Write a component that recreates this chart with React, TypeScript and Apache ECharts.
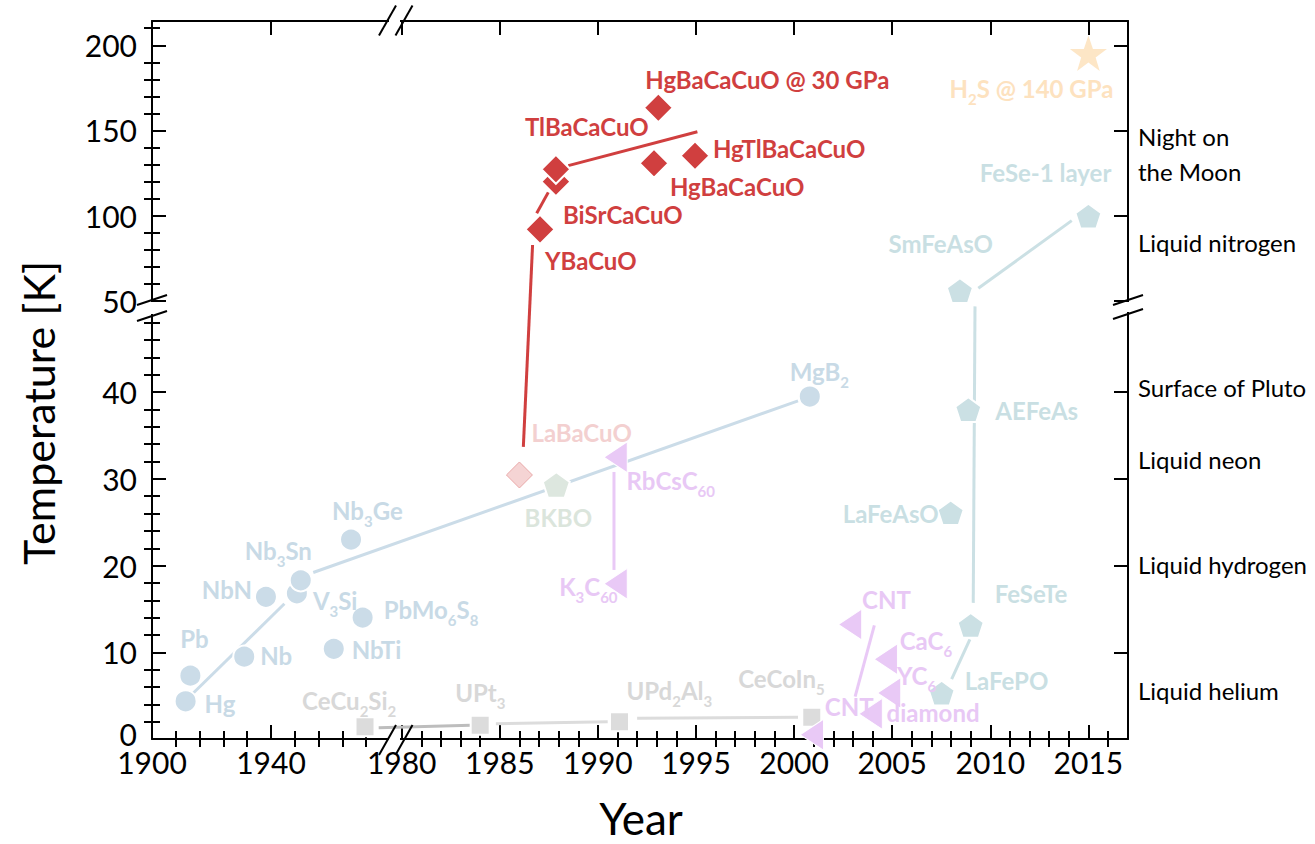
import React, { useEffect, useRef } from "react";
import * as echarts from "echarts";

// ---------------- data ----------------
// conventional superconductors
const convLabels = ["Hg", "Pb", "Nb", "NbN", "V{s|3}Si", "Nb{s|3}Sn", "NbTi", "PbMo{s|6}S{s|8}", "Nb{s|3}Ge", "MgB{s|2}"];
const convYear = [1911.3, 1912.9, 1931.0, 1938.3, 1948.7, 1950.0, 1961.1, 1970.8, 1966.9, 2000.8];
const convTc = [4.35, 7.3, 9.5, 16.4, 16.8, 18.3, 10.4, 14.0, 23.0, 39.5];
const convLines = [
  [[1913.9, 5.3], [1944.5, 15.6]],
  [[1954.2, 19.2], [2000.2, 39.0]],
];

// heavy fermions
const hfLabels = ["CeCu{s|2}Si{s|2}", "UPt{s|3}", "UPd{s|2}Al{s|3}", "CeCoIn{s|5}"];
const hfYear = [1971.6, 1984.0, 1991.1, 2000.9];
const hfTc = [1.4, 1.6, 2.0, 2.5];
const hfLinesDark = [[[1976.2, 1.3], [1983.5, 1.6]]];
const hfLines = [
  [[1984.8, 1.75], [1990.5, 2.0]],
  [[1992.0, 2.4], [2000.2, 2.5]],
];

// cuprates
const cupLabels = ["YBaCuO", "BiSrCaCuO", "TlBaCaCuO", "HgBaCaCuO", "HgTlBaCaCuO", "HgBaCaCuO @ 30 GPa"];
const cupYear = [1987.05, 1987.86, 1987.86, 1992.86, 1994.95, 1993.08];
const cupTc = [91.9, 119.9, 127.2, 130.7, 135.1, 163.3];
const cupLines = [
  [[1986.2, 33.7], [1986.67, 82.7]],
  [[1986.88, 101.3], [1987.47, 113.6]],
  [[1988.49, 129.3], [1995.07, 149.2]],
];
const labaLabels = ["LaBaCuO"];
const labaYear = [1986.0];
const labaTc = [30.45];

const bkboLabels = ["BKBO"];
const bkboYear = [1987.88];
const bkboTc = [29.3];

// carbon-based
const carbLabels = ["RbCsC{s|60}", "K{s|3}C{s|60}", "CNT", "CNT", "CaC{s|6}", "YC{s|6}", "diamond"];
const carbYear = [1990.9, 1990.9, 2000.9, 2002.85, 2004.67, 2004.84, 2003.9];
const carbTc = [32.5, 17.9, 0.5, 13.2, 9.2, 5.3, 2.9];
const carbLines = [
  [[1990.82, 30.8], [1990.82, 19.5]],
  [[2004.09, 13.1], [2003.11, 4.9]],
];

// iron-based
const ironLabels = ["LaFePO", "FeSeTe", "LaFeAsO", "AEFeAs", "SmFeAsO", "FeSe-1 layer"];
const ironYear = [2007.52, 2009.0, 2007.98, 2008.88, 2008.45, 2015.0];
const ironTc = [5.3, 13.1, 26.1, 38.0, 55.9, 99.7];
const ironLines = [
  [[2008.03, 6.9], [2008.96, 11.5]],
  [[2009.13, 15.7], [2009.22, 49.9]],
  [[2009.39, 57.3], [2014.15, 97.0]],
];

// hydride
const h2sLabels = ["H{s|2}S @ 140 GPa"];
const h2sYear = [2015.0];
const h2sTc = [195.3];

// ticks
const xMajorYears = [1900, 1940, 1980, 1985, 1990, 1995, 2000, 2005, 2010, 2015];
const yMajorLow = [0, 10, 20, 30, 40];
const yMajorUp = [50, 100, 150, 200];
const refLabels = ["Liquid helium", "Liquid hydrogen", "Liquid neon", "Surface of Pluto", "Liquid nitrogen", "Night on\nthe Moon"];
const refTemps = [5.65, 20.1, 32.2, 40.5, 83.9, 136.4];

// ---------------- broken-axis scales (1 unit = 1 px) ----------------
const X_LEFT = 2.975;
const X_RIGHT_START = 249.7;
const X_RIGHT = 19.62;
const X_MAX = 976;
const Y_LOW = 8.67;
const Y_UP_START = 438.3;
const Y_UP = 1.703;
const Y_MAX = 718;

const tx = (year: number) =>
  year < 1979 ? (year - 1900) * X_LEFT : X_RIGHT_START + (year - 1980) * X_RIGHT;
const tyUp = (t: number) => Y_UP_START + (t - 50) * Y_UP;
const ty = (t: number) => (t <= 50 ? t * Y_LOW : tyUp(t));

const xMinorYears: number[] = [];
for (let y = 1908; y <= 1972; y += 8) if (y !== 1940) xMinorYears.push(y);
for (let y = 1981; y <= 2016; y++) if (y % 5 !== 0) xMinorYears.push(y);
const yMinorLow: number[] = [];
for (let t = 2; t < 50; t += 2) if (t % 10 !== 0) yMinorLow.push(t);
const yMinorUp: number[] = [];
for (let t = 60; t <= 210; t += 10) if (t % 50 !== 0) yMinorUp.push(t);

const xMajorPos = xMajorYears.map(tx);
const xMinorPos = xMinorYears.map(tx);
const yMajorPos = [...yMajorLow.map(ty), ...yMajorUp.map(tyUp)];
// the "0" label sits slightly raised in the reference
const yMajorLab = [...yMajorLow, ...yMajorUp].map((v) => (v === 0 ? "{z|0}" : String(v)));
const yMinorPos = [...yMinorLow.map(ty), ...yMinorUp.map(tyUp)];
const refPos = refTemps.map(ty);

const lookup = (pos: number[], labs: string[]) => {
  const m = new Map<string, string>();
  pos.forEach((p, i) => m.set(p.toFixed(3), labs[i]));
  return (v: number) => m.get(Number(v).toFixed(3)) ?? "";
};

// ---------------- styles ----------------
const FONT = "Lato";
const PENTAGON = "path://M50,0L97.55,34.55L79.39,90.45L20.61,90.45L2.45,34.55Z";
const STAR = "path://M50,0L61.8,35.1L98.1,35.1L68.8,56.7L79.4,91.9L50,70.2L20.6,91.9L31.2,56.7L1.9,35.1L38.2,35.1Z";
const LTRI = "path://M0,50L86.6,0L86.6,100Z";

const C_BLUE = "#cbdce8";
const C_GRAY = "#dcdcdc";
const C_GRAY_DARK = "#bdbdbd";
const C_RED = "#d03f3f";
const C_PINK = "#f5d4d4";
const C_BKBO = "#dde7df";
const C_PURPLE = "#e9c9f6";
const C_TEAL = "#cbe0e4";
const C_STAR = "#fde6c6";

type Off = [number, number, string];
const convOff: Off[] = [
  [19, 2, "left"], [4, -37, "center"], [16, -1, "left"], [-14, -7, "right"], [16, 7, "left"],
  [-56, -30, "left"], [18, 1, "left"], [21, -8, "left"], [-19, -29, "left"], [-20, -25, "left"],
];
const hfOff: Off[] = [[-63, -26, "left"], [-25, -33, "left"], [7, -31, "left"], [13, -39, "right"]];
const cupOff: Off[] = [
  [5, 31, "left"], [7, 33, "left"], [-31, -43, "left"], [16, 23, "left"], [18, -7, "left"], [-13, -28, "left"],
];
const labaOff: Off[] = [[12, -42, "left"]];
const bkboOff: Off[] = [[2, 33, "center"]];
const carbOff: Off[] = [
  [11, 23, "left"], [2, 3, "right"], [13, -28, "left"], [12, -25, "left"], [14, -19, "left"], [8, -18, "left"], [16, -1, "left"],
];
const ironOff: Off[] = [
  [23, -13, "left"], [24, -32, "left"], [-12, 1, "right"], [27, 1, "left"], [33, -47, "right"], [23, -44, "right"],
];
const h2sOff: Off[] = [[25, 35, "right"]];

function scatter(
  labels: string[], years: number[], tcs: number[], offs: Off[],
  sty: { symbol: string; size: number | number[]; color: string; text: string; border?: string; bw?: number }
) {
  return {
    type: "scatter",
    z: 5,
    clip: false,
    silent: true,
    symbol: sty.symbol,
    symbolSize: sty.size,
    symbolKeepAspect: true,
    itemStyle: { color: sty.color, borderColor: sty.border ?? "#ffffff", borderWidth: sty.bw ?? 2, opacity: 1 },
    label: {
      show: true,
      color: sty.text,
      fontFamily: FONT,
      fontSize: 24,
      fontWeight: "bold",
      lineHeight: 36,
      rich: {
        s: { fontSize: 15, fontWeight: "bold", lineHeight: 12, verticalAlign: "bottom", color: sty.text, fontFamily: FONT },
      },
    },
    emphasis: { disabled: true },
    data: years.map((y, i) => ({
      value: [tx(y), ty(tcs[i])],
      label: {
        show: true,
        formatter: labels[i],
        position: "inside",
        offset: [offs[i][0], offs[i][1]],
        align: offs[i][2],
      },
    })),
  };
}

function lines(segs: number[][][], color: string, width = 3) {
  return segs.map((seg) => ({
    type: "line",
    z: 2,
    silent: true,
    symbol: "none",
    clip: false,
    lineStyle: { color, width, cap: "butt" },
    data: seg.map(([y, t]) => [tx(y), ty(t)]),
  }));
}

const black = "#000000";
const tickStyle = { color: black, width: 2 };

function xAxes() {
  const base = { type: "value", min: 0, max: X_MAX, splitLine: { show: false } };
  return [
    {
      ...base, position: "bottom",
      axisLine: { show: true, onZero: false, lineStyle: tickStyle },
      axisTick: { show: true, inside: true, length: 14, lineStyle: tickStyle, customValues: xMajorPos },
      axisLabel: {
        show: true, customValues: xMajorPos, formatter: lookup(xMajorPos, xMajorYears.map(String)),
        fontFamily: FONT, fontSize: 30, lineHeight: 22, color: black, margin: 12,
      },
    },
    {
      ...base, position: "bottom",
      axisLine: { show: false },
      axisTick: { show: true, inside: true, length: 8, lineStyle: tickStyle, customValues: xMinorPos },
      axisLabel: { show: false },
    },
    {
      ...base, position: "top",
      axisLine: { show: true, onZero: false, lineStyle: tickStyle },
      axisTick: { show: true, inside: true, length: 14, lineStyle: tickStyle, customValues: xMajorPos },
      axisLabel: { show: false },
    },
    {
      ...base, position: "top",
      axisLine: { show: false },
      axisTick: { show: true, inside: true, length: 8, lineStyle: tickStyle, customValues: xMinorPos },
      axisLabel: { show: false },
    },
  ];
}

function yAxes() {
  const base = { type: "value", min: 0, max: Y_MAX, splitLine: { show: false } };
  return [
    {
      ...base, position: "left",
      axisLine: { show: true, onZero: false, lineStyle: tickStyle },
      axisTick: { show: true, inside: true, length: 14, lineStyle: tickStyle, customValues: yMajorPos },
      axisLabel: {
        show: true, customValues: yMajorPos, formatter: lookup(yMajorPos, yMajorLab),
        fontFamily: FONT, fontSize: 30, lineHeight: 22, color: black, margin: 15,
        rich: { z: { fontFamily: FONT, fontSize: 30, lineHeight: 22, color: black, padding: [0, 0, 10, 0] } },
      },
    },
    {
      ...base, position: "left",
      axisLine: { show: false },
      axisTick: { show: true, inside: true, length: 8, lineStyle: tickStyle, customValues: yMinorPos },
      axisLabel: { show: false },
    },
    {
      ...base, position: "right",
      axisLine: { show: true, onZero: false, lineStyle: tickStyle },
      axisTick: { show: true, inside: true, length: 14, lineStyle: tickStyle, customValues: yMajorPos },
      axisLabel: { show: false },
    },
    {
      ...base, position: "right",
      axisLine: { show: false },
      axisTick: { show: true, inside: true, length: 8, lineStyle: tickStyle, customValues: yMinorPos },
      axisLabel: { show: false },
    },
    {
      ...base, position: "right",
      axisLine: { show: false },
      axisTick: { show: false },
      axisLabel: {
        show: true, customValues: refPos, formatter: lookup(refPos, refLabels),
        fontFamily: FONT, fontSize: 24, lineHeight: 35, color: black, margin: 10, align: "left",
      },
    },
  ];
}

// axis-break decorations (pure layout)
function slash(cx: number, cy: number, hx: number, hy: number) {
  return {
    type: "line", z: 100, silent: true,
    shape: { x1: cx - hx, y1: cy + hy, x2: cx + hx, y2: cy - hy },
    style: { stroke: black, lineWidth: 2 },
  };
}
function cover(x: number, y: number, w: number, h: number) {
  return { type: "rect", z: 99, silent: true, shape: { x, y, width: w, height: h }, style: { fill: "#ffffff" } };
}

const graphics = [
  cover(389, 736, 11, 6), slash(387.5, 740, 8.5, 15), slash(404, 740, 8.5, 15),
  cover(389, 18, 11, 6), slash(387.5, 20.5, 8.5, 15), slash(404, 20.5, 8.5, 15),
  cover(148, 302, 8, 12), slash(152, 300, 15, 5), slash(152, 316, 15, 5),
  cover(1124, 302, 8, 10), slash(1128, 300, 15, 5), slash(1128, 314, 15, 5),
  {
    type: "text", z: 100, silent: true, x: 641, y: 818,
    style: { text: "Year", fontFamily: FONT, fontSize: 44, lineHeight: 40, fill: black, align: "center", verticalAlign: "middle" },
  },
  {
    type: "text", z: 100, silent: true, x: 38, y: 413, rotation: Math.PI / 2,
    style: { text: "Temperature [K]", fontFamily: FONT, fontSize: 43, fill: black, align: "center", verticalAlign: "middle" },
  },
];

const option = {
  animation: false,
  backgroundColor: "#ffffff",
  grid: { left: 152, right: 187, top: 21, bottom: 105, containLabel: false, outerBoundsMode: "none" },
  xAxis: xAxes(),
  yAxis: yAxes(),
  graphic: graphics,
  series: [
    ...lines(convLines, C_BLUE),
    ...lines(hfLinesDark, C_GRAY_DARK),
    ...lines(hfLines, C_GRAY),
    ...lines(cupLines, C_RED),
    ...lines(carbLines, C_PURPLE),
    ...lines(ironLines, C_TEAL),
    scatter(convLabels, convYear, convTc, convOff, { symbol: "circle", size: 22, color: C_BLUE, text: "#c8dae6" }),
    scatter(hfLabels, hfYear, hfTc, hfOff, { symbol: "rect", size: 19, color: C_GRAY, text: "#d8d8d8" }),
    scatter(labaLabels, labaYear, labaTc, labaOff, { symbol: "diamond", size: 26, color: C_PINK, text: "#f3d0d0", border: "#e9a9a9", bw: 1 }),
    scatter(bkboLabels, bkboYear, bkboTc, bkboOff, { symbol: PENTAGON, size: 27, color: C_BKBO, text: "#dbe5dc" }),
    scatter(carbLabels, carbYear, carbTc, carbOff, { symbol: LTRI, size: [27, 31], color: C_PURPLE, text: "#e8c8f5", bw: 1 }),
    scatter(ironLabels, ironYear, ironTc, ironOff, { symbol: PENTAGON, size: 26, color: C_TEAL, text: "#c9dfe3" }),
    scatter(cupLabels, cupYear, cupTc, cupOff, { symbol: "diamond", size: 29, color: C_RED, text: C_RED }),
    scatter(h2sLabels, h2sYear, h2sTc, h2sOff, { symbol: STAR, size: 37, color: C_STAR, text: "#fde2bf", bw: 0 }),
  ],
};

export default function App() {
  const ref = useRef<HTMLDivElement>(null);
  useEffect(() => {
    if (!ref.current) return;
    const chart = echarts.init(ref.current, null, { renderer: "svg" });
    chart.setOption(option as any);
    return () => chart.dispose();
  }, []);
  return (
    <div
      ref={ref}
      style={{ position: "fixed", left: 0, top: 0, width: 1315, height: 844, background: "#ffffff" }}
    />
  );
}
